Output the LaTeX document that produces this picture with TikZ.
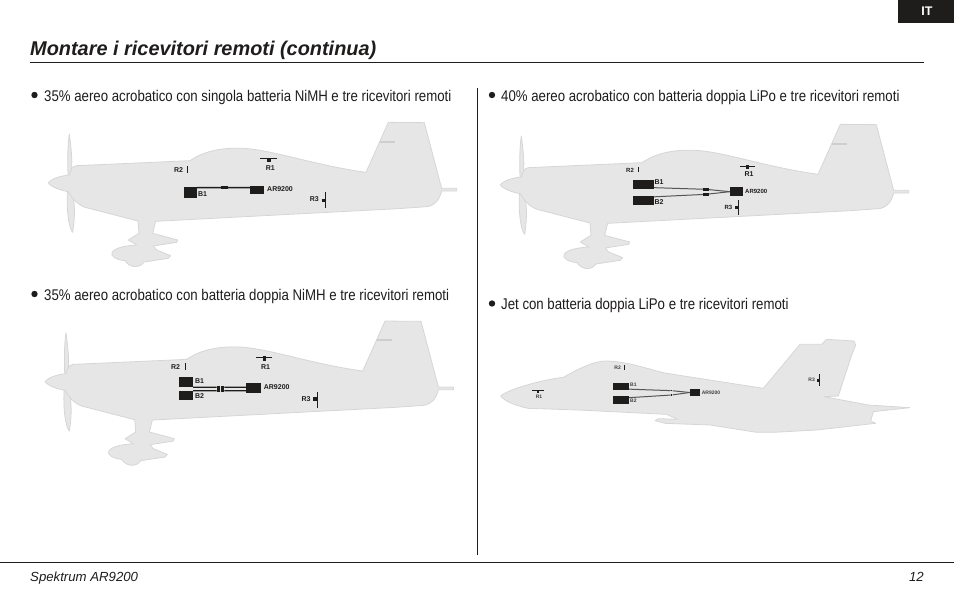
\documentclass[tikz,border=0pt]{standalone}
\usepackage{fontspec}
\setmainfont{Liberation Sans}
\newfontfamily\bodyfont[FakeStretch=0.853]{Liberation Sans}
\usetikzlibrary{positioning,calc}

\definecolor{planegray}{HTML}{E6E6E6}
\definecolor{edgegray}{HTML}{D6D6D6}
\definecolor{inkblack}{HTML}{1F1C1C}

\tikzset{
  body/.style={anchor=base west, inner sep=0, font=\bodyfont\fontsize{15.5}{17}\selectfont, text=inkblack},
  dot/.style={circle, fill=inkblack, inner sep=0, minimum size=6.4pt},
  blackbox/.style={fill=inkblack, inner sep=0},
  tag/.style={inner sep=0, font=\bfseries\fontsize{7}{8}\selectfont, text=inkblack},
  smalltag/.style={inner sep=0, font=\bfseries\fontsize{6}{7}\selectfont, text=inkblack},
  tinytag/.style={inner sep=0, font=\bfseries\fontsize{5}{6}\selectfont, text=inkblack!85},
  wire/.style={draw=inkblack, line width=1.6pt},
  thinwire/.style={draw=inkblack!75, line width=1pt},
  airframe/.style={fill=planegray, draw=edgegray, line width=.8pt, line join=round}
}

% stunt plane silhouette, in units of 1/3 px
\newcommand{\stuntplane}{
  \draw [airframe] (118,72) .. controls (112,110) and (113,160) .. (114,195)
    -- (112,250) .. controls (110,300) and (115,350) .. (128,367)
    .. controls (136,320) and (135,270) .. (125,240)
    -- (122,190) .. controls (130,170) and (123,110) .. (118,72) -- cycle;
  \draw [airframe] (55,219) .. controls (65,205) and (95,197) .. (118,195)
    .. controls (122,180) and (126,168) .. (140,167)
    -- (480,152) .. controls (520,125) and (570,112) .. (640,115)
    .. controls (730,120) and (850,165) .. (1008,187)
    -- (1075,37) -- (1183,38) -- (1235,235) -- (1280,235) -- (1280,243) -- (1235,243)
    .. controls (1228,270) and (1215,287) .. (1190,290)
    -- (1105,296) -- (377,334) -- (368,370) -- (443,390) -- (440,397) -- (370,408)
    -- (380,420) -- (422,437) -- (415,445) -- (342,456)
    .. controls (330,475) and (300,475) .. (285,452)
    .. controls (260,450) and (240,438) .. (246,428)
    .. controls (255,412) and (290,407) .. (320,405)
    -- (295,390) -- (327,370) -- (324,333) -- (165,292)
    .. controls (145,285) and (125,265) .. (115,245)
    .. controls (95,242) and (65,232) .. (55,219) -- cycle;
  \draw [edgegray!96!black, line width=2pt] (1050,95) -- (1095,95);
}

\begin{document}
\begin{tikzpicture}[x=1pt,y=-1pt]
  \useasboundingbox (0,0) rectangle (954,597);

  % page furniture
  \fill [inkblack] (898,0) rectangle (954,22.6);
  \node [inner sep=0, text=white, font=\bfseries\fontsize{12.5}{14}\selectfont] at (927,11.5) (lang) {IT};
  \node [anchor=base west, inner sep=0, text=inkblack, font=\bfseries\itshape\fontsize{19.9}{22}\selectfont] at (30,56) (title) {Montare i ricevitori remoti (continua)};
  \draw [inkblack, line width=.8pt] (30,62.5) -- (924,62.5);
  \draw [inkblack, line width=.8pt] (477,88) -- (477,555);
  \draw [inkblack, line width=.8pt] (0,562.5) -- (954,562.5);
  \node [anchor=base west, inner sep=0, text=inkblack, font=\itshape\fontsize{13.2}{15}\selectfont] at (30,581) (foot) {Spektrum AR9200};
  \node [anchor=base east, inner sep=0, text=inkblack, font=\itshape\fontsize{13.2}{15}\selectfont] at (924,581) (page) {12};

  \node [dot] at (34.5,95) (d1) {};
  \node [body] at (44,101) (t1) {35\% aereo acrobatico con singola batteria NiMH e tre ricevitori remoti};
  \node [dot] at (34.5,294) (d2) {};
  \node [body] at (44,300) (t2) {35\% aereo acrobatico con batteria doppia NiMH e tre ricevitori remoti};
  \node [dot] at (492,95) (d3) {};
  \node [body] at (501,101) (t3) {40\% aereo acrobatico con batteria doppia LiPo e tre ricevitori remoti};
  \node [dot] at (492,303.5) (d4) {};
  \node [body] at (501,309) (t4) {Jet con batteria doppia LiPo e tre ricevitori remoti};

  % first plane
  \begin{scope}[shift={(30,110)},scale=1/3]
    \stuntplane
    \node [blackbox, minimum width=12.7pt, minimum height=10.4pt] at (481,247.5) (Ba) {};
    \node [blackbox, minimum width=14.3pt, minimum height=8pt] at (681.5,239) (ARa) {};
    \node [blackbox, minimum width=7pt, minimum height=3.3pt] at (583.5,233) (Pa) {};
    \draw [wire] (Pa -| Ba.east) -- (Pa) -- (Pa -| ARa.west);
    \node [tag] at (518,251) (Bal) {B1};
    \node [tag, anchor=west] at (711,236) (ARal) {AR9200};
    \node [tag] at (721,174) (Ral1) {R1};
    \node [blackbox, minimum width=16.5pt, minimum height=.8pt] at (715,145) (Rab1) {};
    \node [blackbox, minimum width=3.3pt, minimum height=3.3pt] at (717,150) (Rad1) {};
    \node [tag] at (446,181) (Ral2) {R2};
    \node [blackbox, minimum width=1.2pt, minimum height=6.5pt] at (473,179) (Rab2) {};
    \node [tag] at (853,267) (Ral3) {R3};
    \node [blackbox, minimum width=.8pt, minimum height=15.5pt] at (886,270) (Rab3) {};
    \node [blackbox, minimum width=3pt, minimum height=3pt] at (880,270) (Rad3) {};
  \end{scope}

  % second plane
  \begin{scope}[shift={(26.7,308.7)},scale=1/3]
    \stuntplane
  \end{scope}
  \begin{scope}[shift={(30,310)},scale=1/3]
    \node [blackbox, minimum width=14pt, minimum height=10pt] at (468,217) (Bb1) {};
    \node [blackbox, minimum width=14pt, minimum height=9.5pt] at (468,256) (Bb2) {};
    \node [blackbox, minimum width=15pt, minimum height=9.7pt] at (670.5,234.5) (ARb) {};
    \node [blackbox, minimum width=3pt, minimum height=2.8pt] at (565,232) (Pb1) {};
    \node [blackbox, minimum width=3pt, minimum height=2.8pt] at (578,232) (Qb1) {};
    \node [blackbox, minimum width=3pt, minimum height=2.8pt] at (565,242) (Pb2) {};
    \node [blackbox, minimum width=3pt, minimum height=2.8pt] at (578,242) (Qb2) {};
    \draw [wire, line width=1.2pt] (Pb1 -| Bb1.east) -- (Pb1);
    \draw [wire, line width=1.2pt] (Qb1) -- (Qb1 -| ARb.west);
    \draw [wire, line width=1.2pt] (Pb2 -| Bb2.east) -- (Pb2);
    \draw [wire, line width=1.2pt] (Qb2) -- (Qb2 -| ARb.west);
    \node [tag] at (509,212) (Bbl1) {B1};
    \node [tag] at (509,259) (Bbl2) {B2};
    \node [tag, anchor=west] at (701,232) (ARbl) {AR9200};
    \node [tag] at (707,170) (Rbl1) {R1};
    \node [blackbox, minimum width=16pt, minimum height=.8pt] at (702,142) (Rbb1) {};
    \node [blackbox, minimum width=2.6pt, minimum height=5.3pt] at (703,146) (Rbd1) {};
    \node [tag] at (437,171) (Rbl2) {R2};
    \node [blackbox, minimum width=1.2pt, minimum height=6.5pt] at (466,169) (Rbb2) {};
    \node [tag] at (828,267) (Rbl3) {R3};
    \node [blackbox, minimum width=.8pt, minimum height=15.5pt] at (862,270) (Rbb3) {};
    \node [blackbox, minimum width=4pt, minimum height=3.3pt] at (855,267) (Rbd3) {};
  \end{scope}

  % third plane
  \begin{scope}[shift={(482,112)},scale=1/3]
    \stuntplane
  \end{scope}
  \begin{scope}[shift={(490,115)},scale=1/3]
    \node [blackbox, minimum width=20.7pt, minimum height=8.7pt] at (460,208) (Bc1) {};
    \node [blackbox, minimum width=20.7pt, minimum height=9pt] at (460,256.5) (Bc2) {};
    \node [blackbox, minimum width=12.7pt, minimum height=8.7pt] at (739,230) (ARc) {};
    \node [blackbox, minimum width=5.7pt, minimum height=2.7pt] at (648,223) (Pc1) {};
    \node [blackbox, minimum width=5.7pt, minimum height=2.7pt] at (648,238) (Pc2) {};
    \draw [thinwire] ($(Bc1.east)+(0,10)$) -- (Pc1) -- (ARc.west);
    \draw [thinwire] ($(Bc2.east)+(0,-11)$) -- (Pc2) -- (ARc.west);
    \node [tag] at (507,200) (Bcl1) {B1};
    \node [tag] at (507,260) (Bcl2) {B2};
    \node [smalltag, anchor=west] at (765,229) (ARcl) {AR9200};
    \node [tag] at (777,177) (Rcl1) {R1};
    \node [blackbox, minimum width=15pt, minimum height=.8pt] at (772,155) (Rcb1) {};
    \node [blackbox, minimum width=2.6pt, minimum height=3.3pt] at (772,156) (Rcd1) {};
    \node [smalltag] at (420,165) (Rcl2) {R2};
    \node [blackbox, minimum width=.8pt, minimum height=5.5pt] at (444,163) (Rcb2) {};
    \node [smalltag] at (715,276) (Rcl3) {R3};
    \node [blackbox, minimum width=.8pt, minimum height=14.5pt] at (745,277) (Rcb3) {};
    \node [blackbox, minimum width=3pt, minimum height=3pt] at (739,277) (Rcd3) {};
  \end{scope}

  % jet
  \begin{scope}[shift={(490,330)},scale=1/3]
    \draw [airframe] (32,198) .. controls (50,180) and (150,150) .. (220,142)
      .. controls (260,120) and (310,92) .. (350,93)
      .. controls (420,95) and (480,120) .. (530,130)
      -- (820,175) -- (930,43) -- (995,43) -- (1010,28) -- (1092,33) -- (1097,45)
      -- (1085,75) -- (1045,198) -- (1002,200) -- (1135,225) -- (1260,233)
      -- (1150,245) -- (1142,273) -- (1157,280) -- (980,300) -- (850,307) -- (800,307)
      -- (660,285) -- (525,280) -- (495,272) -- (505,266) -- (562,268) -- (530,253)
      -- (265,240) -- (115,235) .. controls (80,228) and (45,215) .. (32,198) -- cycle;
    \node [blackbox, minimum width=16pt, minimum height=7pt] at (393,169.5) (Bd1) {};
    \node [blackbox, minimum width=16pt, minimum height=7.3pt] at (393,210) (Bd2) {};
    \node [blackbox, minimum width=10pt, minimum height=7pt] at (615,187.5) (ARd) {};
    \node [blackbox, minimum width=1.6pt, minimum height=1.6pt] at (545,182) (Pd1) {};
    \node [blackbox, minimum width=1.6pt, minimum height=1.6pt] at (545,195) (Pd2) {};
    \draw [thinwire] ($(Bd1.east)+(0,8)$) -- (Pd1) -- (ARd.west);
    \draw [thinwire] ($(Bd2.east)+(0,-7)$) -- (Pd2) -- (ARd.west);
    \node [tinytag] at (430,165) (Bdl1) {B1};
    \node [tinytag] at (430,213) (Bdl2) {B2};
    \node [tinytag, anchor=west] at (635,188) (ARdl) {AR9200};
    \node [tinytag] at (147,201) (Rdl1) {R1};
    \node [blackbox, minimum width=11.7pt, minimum height=.8pt] at (145,181) (Rdb1) {};
    \node [blackbox, minimum width=2pt, minimum height=2.6pt] at (145,185) (Rdd1) {};
    \node [tinytag] at (383,114) (Rdl2) {R2};
    \node [blackbox, minimum width=.7pt, minimum height=5pt] at (403,113) (Rdb2) {};
    \node [tinytag] at (965,149) (Rdl3) {R3};
    \node [blackbox, minimum width=.8pt, minimum height=11.3pt] at (988,150) (Rdb3) {};
    \node [blackbox, minimum width=2pt, minimum height=2.6pt] at (984,151) (Rdd3) {};
  \end{scope}
\end{tikzpicture}
\end{document}
